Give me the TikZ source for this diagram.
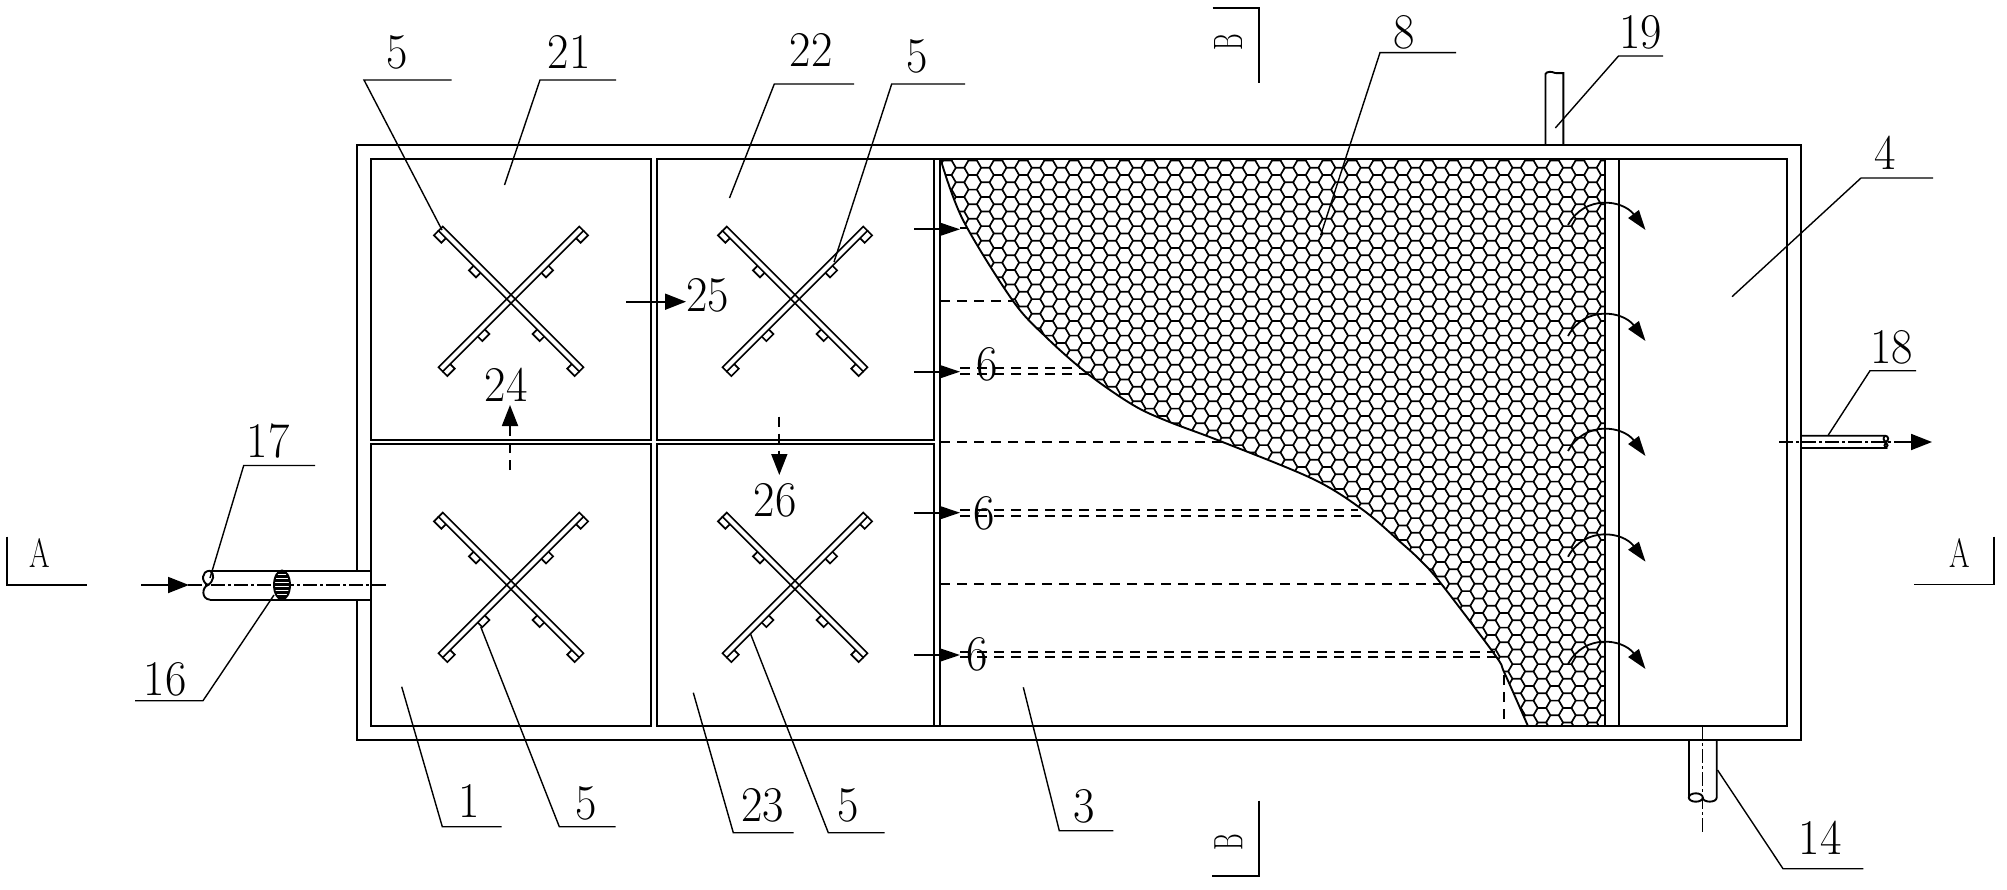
\documentclass[tikz,border=0pt]{standalone}
\usetikzlibrary{arrows.meta}
\newcommand\numtxt[1]{\scalebox{.93}[1]{\fontsize{25}{25}\selectfont #1}}
\newcommand\lettxt[1]{\scalebox{.72}[1]{\fontsize{20.5}{20.5}\selectfont #1}}
\newcommand\lettxtb[1]{\scalebox{.62}[1]{\fontsize{20.5}{20.5}\selectfont #1}}
\tikzset{
  wall/.style={line width=.95pt,line join=miter},
  lead/.style={line width=.7pt},
  cen/.style={line width=.65pt,dash pattern=on 7pt off 1.5pt on 1.5pt off 1.5pt},
  dsh/.style={line width=.85pt,dash pattern=on 5pt off 3.5pt},
  hexl/.style={line width=.85pt},
  flow/.style={line width=.9pt,-{Triangle[length=10pt,width=6.5pt]}},
  flowb/.style={line width=.9pt,-{Triangle[length=10.5pt,width=8pt]}},
  num/.style={inner sep=0pt,anchor=base},
  let/.style={inner sep=0pt},
  mixer/.pic={
    \foreach \r in {45,-45}{
      \begin{scope}[rotate=\r,line width=.85pt]
        \draw (-99.5,-3) rectangle (99.5,3);
        \foreach \a/\b in {89/99.5,40/50,-50/-40,-99.5/-89}{
          \draw (\a,3) -- (\a,9.5) -- (\b,9.5) -- (\b,3);
        }
      \end{scope}
    }
  }
}
\begin{document}
\begin{tikzpicture}[x=.5pt,y=-.5pt]
\useasboundingbox (0,0) rectangle (2007,889);
\fill[white] (0,0) rectangle (2007,889);
% honeycomb packing
\begin{scope}
  \clip plot[smooth,tension=.55] coordinates {(940.5,159) (963,220) (1013,301) (1047,338) (1088,374) (1133,405) (1167,421) (1220,441) (1313,479) (1363,510) (1400,541.7) (1420,560) (1440.6,583) (1495,655) (1504.5,673) (1527.8,725.7)} -- (1605,725.7) -- (1605,159) -- cycle;
  \foreach \k in {-45,...,8}{
    \pgfmathsetmacro\cx{1504+12.65*\k}
    \pgfmathsetmacro\oy{167.7+(iseven(\k)?0:7.3)}
    \foreach \m in {-1,...,39}{
      \pgfmathsetmacro\cy{\oy+14.6*\m}
      \draw[hexl,shift={(\cx,\cy)}] (-4.2,-7.3) -- (4.2,-7.3) -- (8.43,0) -- (4.2,7.3);
    }
  }
\end{scope}
\draw[wall] plot[smooth,tension=.55] coordinates {(940.5,159) (963,220) (1013,301) (1047,338) (1088,374) (1133,405) (1167,421) (1220,441) (1313,479) (1363,510) (1400,541.7) (1420,560) (1440.6,583) (1495,655) (1504.5,673) (1527.8,725.7)};
% tank
\draw[wall] (357,571) -- (357,145) -- (1801,145) -- (1801,740) -- (357,740) -- (357,600);
\draw[wall] (940,159) -- (1787,159) -- (1787,726) -- (940,726);
\draw[wall] (371,159) rectangle (651,440);
\draw[wall] (657,159) rectangle (934,440);
\draw[wall] (371,444.3) rectangle (651,726);
\draw[wall] (657,444.3) rectangle (934,726);
\draw[wall] (934,159) -- (940,159) -- (940,726) -- (934,726);
\draw[wall] (1605,159) -- (1605,726);
\draw[wall] (1619,159) -- (1619,726);
% mixers
\pic at (511,299) {mixer};
\pic at (795,299) {mixer};
\pic at (511,585) {mixer};
\pic at (795,585) {mixer};
% inlet pipe 17
\draw[wall] (210,570.7) -- (371,570.7);
\draw[wall] (210,599.7) -- (371,599.7);
\draw[wall] (210,570.7) .. controls (201,571) and (201,582) .. (208,585) .. controls (202,587) and (201,599) .. (210,599.7);
\draw[wall] (210,570.7) .. controls (215,574) and (214,581) .. (208,585);
\draw[cen] (188,585) -- (389,585);
\draw[flowb] (141,585) -- (189,585);
\begin{scope}
  \clip (282,585) ellipse [x radius=8,y radius=14.5];
  \fill[black] (270,570) rectangle (294,600);
  \foreach \yy in {574.5,578.5,582.5,586.5,590.5,594.5}{
    \draw[white,line width=.5pt] (270,\yy) -- (294,\yy);
  }
\end{scope}
\draw[wall] (282,585) ellipse [x radius=8,y radius=14.5];
% outlet pipe 18
\draw[wall] (1801,435.7) -- (1885,435.7) .. controls (1889,436) and (1889,440) .. (1886,442) .. controls (1884,444) and (1884,447) .. (1886,448) -- (1801,448);
\draw[wall] (1885,435.7) .. controls (1883,438) and (1883,440) .. (1886,442) .. controls (1888,444) and (1888,447) .. (1886,448);
\draw[cen] (1779,442) -- (1905,442);
\draw[flowb] (1905,442) -- (1932,442);
% pipe 19
\draw[wall] (1545.5,145) -- (1545.5,74) .. controls (1547,71) and (1552,71.5) .. (1555,73) .. controls (1558,74.5) and (1561,72) .. (1563.4,73) -- (1563.4,145);
% pipe 14
\draw[wall] (1688.8,740) -- (1688.8,797.5);
\draw[wall] (1716.7,740) -- (1716.7,797.5) .. controls (1716.7,803) and (1702.7,803) .. (1702.7,797.5);
\draw[wall] (1695.8,797.5) ellipse [x radius=7,y radius=4.2];
\draw[cen] (1702.7,726) -- (1702.7,834);
% flow arrows
\draw[flow] (914,229.3) -- (960,229.3);
\draw[flow] (914,371.7) -- (960,371.7);
\draw[flow] (914,512.7) -- (960,512.7);
\draw[flow] (914,655) -- (960,655);
\draw[flowb] (626,301.7) -- (686,301.7);
\draw[dsh] (510,470) -- (510,427);
\draw[flowb] (510,428) -- (510,405);
\draw[dsh] (779.3,416.7) -- (779.3,455);
\draw[flowb] (779.3,453) -- (779.3,475);
\foreach \ty in {230,341,456,561.7,669}{
  \draw[flow] (1568,\ty-5) .. controls (1585,\ty-36) and (1623,\ty-30) .. (1645.5,\ty);
}
% dashed hidden lines
\draw[dsh] (960,228) -- (968,228);
\draw[dsh] (940,301) -- (1013,301);
\draw[dsh] (960,368.3) -- (1080,368.3);
\draw[dsh] (960,374) -- (1088,374);
\draw[dsh] (940,441.7) -- (1228,441.7);
\draw[dsh] (960,510) -- (1358,510);
\draw[dsh] (960,515.7) -- (1367,515.7);
\draw[dsh] (940,584) -- (1441,584);
\draw[dsh] (960,651.7) -- (1495,651.7);
\draw[dsh] (960,657.3) -- (1497,657.3);
\draw[dsh] (1504,675) -- (1504,726);
% leaders
\draw[lead] (451.7,80) -- (364,80) -- (442,230);
\draw[lead] (616,80) -- (540,80) -- (504.5,185);
\draw[lead] (854,84) -- (774.3,84) -- (729.5,198);
\draw[lead] (965,84) -- (891.7,84) -- (834,262);
\draw[lead] (1456,52.6) -- (1380,52.6) -- (1320.7,235);
\draw[lead] (1663,56) -- (1618.5,56) -- (1555.3,128);
\draw[lead] (1933,178) -- (1861,178) -- (1732,296.7);
\draw[lead] (1916,370.7) -- (1870,370.7) -- (1828.3,435);
\draw[lead] (315,465.5) -- (243.7,465.5) -- (210,578);
\draw[lead] (135,700.7) -- (203,700.7) -- (274,595);
\draw[lead] (401.7,686.7) -- (442.3,826.7) -- (501.7,826.7);
\draw[lead] (480.7,626.7) -- (559.3,826.7) -- (615.7,826.7);
\draw[lead] (693.3,692.7) -- (733.3,832.7) -- (793.7,832.7);
\draw[lead] (750.7,634.3) -- (828.3,832.7) -- (884.7,832.7);
\draw[lead] (1023.3,687.3) -- (1059.3,830.7) -- (1113.3,830.7);
\draw[lead] (1717.5,770) -- (1783,868.7) -- (1863.4,868.7);
% section marks
\draw[wall] (7.3,536.7) -- (7.3,584.7) -- (86.7,584.7);
\draw[wall] (1994,536.7) -- (1994,584.5) -- (1913.7,584.5);
\draw[wall] (1212.7,7.7) -- (1259,7.7) -- (1259,83.3);
\draw[wall] (1259,800.7) -- (1259,875.7) -- (1212.3,875.7);
% labels
\node[num] (n5a) at (396.7,68.3) {\numtxt{5}};
\node[num] (n21) at (569,68) {\numtxt{21}};
\node[num] (n22) at (811,66.7) {\numtxt{22}};
\node[num] (n5b) at (916.7,72.7) {\numtxt{5}};
\node[num] (n8) at (1404,48.7) {\numtxt{8}};
\node[num] (n19) at (1640.7,48.3) {\numtxt{19}};
\node[num] (n4) at (1885,169) {\numtxt{4}};
\node[num] (n25) at (707.7,311.7) {\numtxt{25}};
\node[num] (n24) at (506,401.7) {\numtxt{24}};
\node[num] (n26) at (775,516) {\numtxt{26}};
\node[num] (n18) at (1891.7,363.3) {\numtxt{18}};
\node[num] (n17) at (268,457) {\numtxt{17}};
\node[num] (n16) at (165,695) {\numtxt{16}};
\node[num] (n6a) at (987,380.7) {\numtxt{6}};
\node[num] (n6b) at (984.3,529.3) {\numtxt{6}};
\node[num] (n6c) at (977.3,670.7) {\numtxt{6}};
\node[num] (n1) at (469.3,817.3) {\numtxt{1}};
\node[num] (n5c) at (586,819) {\numtxt{5}};
\node[num] (n23) at (762.7,821.7) {\numtxt{23}};
\node[num] (n5d) at (848.3,821.7) {\numtxt{5}};
\node[num] (n3) at (1084,822.3) {\numtxt{3}};
\node[num] (n14) at (1820,854) {\numtxt{14}};
\node[num] (la) at (39.7,567.7) {\lettxt{A}};
\node[num] (lar) at (1960,567.7) {\lettxt{A}};
\node[let,rotate=90] (lb) at (1228,41.7) {\lettxtb{B}};
\node[let,rotate=90] (lbr) at (1228.3,841.7) {\lettxtb{B}};
\end{tikzpicture}
\end{document}
